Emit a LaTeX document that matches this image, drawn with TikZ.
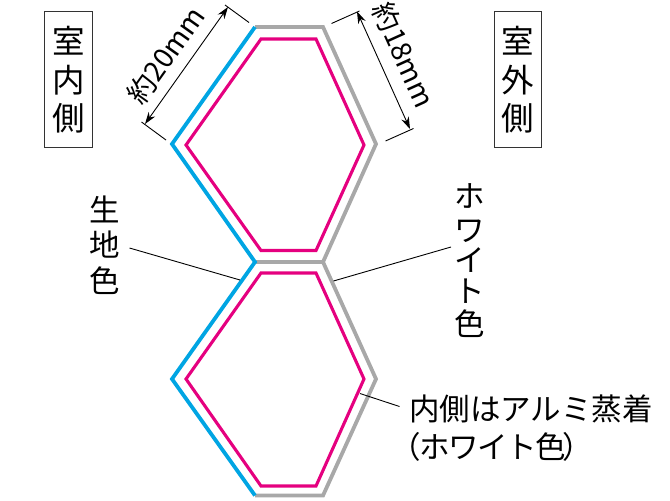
\documentclass[tikz,border=0pt]{standalone}
\usepackage{fontspec}
\setmainfont{Noto Sans CJK JP}
\usetikzlibrary{arrows.meta}
\definecolor{cblue}{HTML}{00A5E3}
\definecolor{cgray}{HTML}{A8A8A8}
\definecolor{cpink}{HTML}{E5007F}
\tikzset{
 wall/.style={line width=3.8pt,line join=miter,line cap=butt},
 foil/.style={line width=3.1pt,cpink,line join=miter},
 thin/.style={line width=0.9pt,black},
 dim/.style={line width=0.9pt,black,{Stealth[length=12pt,width=8pt]}-{Stealth[length=12pt,width=8pt]}},
 lab/.style={font=\fontsize{30.5}{30.5}\selectfont,inner sep=0pt,text=black},
 biglab/.style={font=\fontsize{32.5}{32.5}\selectfont,inner sep=0pt,text=black},
 dimlab/.style={font=\fontsize{28}{28}\selectfont,inner sep=0pt,text=black},
 boxed/.style={draw=black!80,line width=0.9pt,minimum width=47.3pt,minimum height=135.5pt,inner sep=0pt}
}
\begin{document}
\begin{tikzpicture}[x=1pt,y=-1pt]
\useasboundingbox (0,0) rectangle (670,501);
% corner coordinates
\coordinate (t1) at (255,27); \coordinate (t2) at (323,27); \coordinate (r1) at (376,144);
\coordinate (m2) at (323,262); \coordinate (m1) at (255,262); \coordinate (l1) at (172,144);
\coordinate (r2) at (376,379); \coordinate (b2) at (323,495.5); \coordinate (b1) at (255,495.5); \coordinate (l2) at (172,379);
% gray walls
\draw[wall,cgray] (t1) -- (t2) -- (r1) -- (m2) -- (m1);
\draw[wall,cgray] (m2) -- (r2) -- (b2) -- (b1);
% blue walls
\draw[wall,cblue] (t1) -- (l1) -- (m1) -- (l2) -- (b1);
% pink foil
\draw[foil] (261,39) -- (316,39) -- (364,145) -- (316,250.5) -- (261,250.5) -- (186,145) -- cycle;
\draw[foil] (261,273) -- (316,273) -- (364,379) -- (316,486) -- (261,486) -- (186,379) -- cycle;
% dimensions
\coordinate (dl1a) at (225,5); \coordinate (dl1b) at (249,22.5);
\coordinate (dl2a) at (141.5,122); \coordinate (dl2b) at (166,140);
\coordinate (dla) at (228,7); \coordinate (dlb) at (145,124);
\draw[thin] (dl1a) -- (dl1b); \draw[thin] (dl2a) -- (dl2b); \draw[dim] (dla) -- (dlb);
\coordinate (dr1a) at (331.5,23.5); \coordinate (dr1b) at (359.5,11);
\coordinate (dr2a) at (385.5,141); \coordinate (dr2b) at (413.5,128.5);
\coordinate (dra) at (357,11.5); \coordinate (drb) at (410,129);
\draw[thin] (dr1a) -- (dr1b); \draw[thin] (dr2a) -- (dr2b); \draw[dim] (dra) -- (drb);
\node[dimlab,rotate=54.5,anchor=center] (d20) at (166,55) {約20mm};
\node[dimlab,rotate=-65.7,anchor=center] (d18) at (404,55) {約18mm};
% boxed labels
\node[boxed] (indoor) at (68.3,79.3) {};
\node[biglab] (i1) at (68.3,41) {室}; \node[biglab] (i2) at (68.3,80) {内}; \node[biglab] (i3) at (68.3,118) {側};
\node[boxed] (outdoor) at (517.7,79.3) {};
\node[biglab] (o1) at (517.7,41) {室}; \node[biglab] (o2) at (517.7,80) {外}; \node[biglab] (o3) at (517.7,118) {側};
% side labels
\node[lab] (k1) at (105,209) {生}; \node[lab] (k2) at (105,245) {地}; \node[lab] (k3) at (105,281) {色};
\node[lab] (w1) at (470,196) {ホ}; \node[lab] (w2) at (470,231) {ワ}; \node[lab] (w3) at (470,260) {イ}; \node[lab] (w4) at (470,291) {ト}; \node[lab] (w5) at (470,324) {色};
\node[lab,anchor=west] (al) at (409,409) {内側はアルミ蒸着};
\node[lab,anchor=west] (wh) at (390,447) {\addfontfeature{LetterSpace=-5}（ホワイト色\hspace{-3pt}）};
% leaders
\coordinate (ka) at (129.5,248); \coordinate (kb) at (240,280);
\coordinate (wa) at (451,247); \coordinate (wb) at (333.5,281);
\coordinate (aa) at (399.5,406.5); \coordinate (ab) at (360,393.5);
\draw[thin] (ka) -- (kb); \draw[thin] (wa) -- (wb); \draw[thin] (aa) -- (ab);
\end{tikzpicture}
\end{document}
